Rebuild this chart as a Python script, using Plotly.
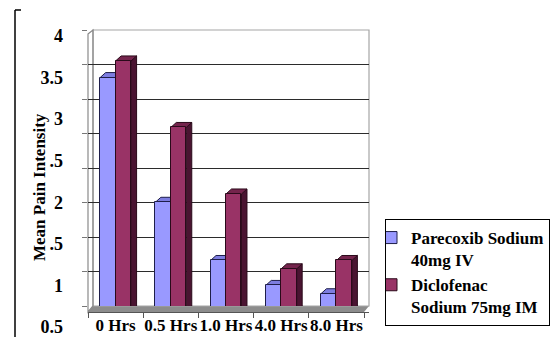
import plotly.graph_objects as go

# ---- data -------------------------------------------------------------
time_points = ["0 Hrs", "0.5 Hrs", "1.0 Hrs", "4.0 Hrs", "8.0 Hrs"]
parecoxib = [3.5, 2.0, 1.3, 1.0, 0.9]
diclofenac = [3.7, 2.9, 2.1, 1.2, 1.3]
series_names = ["Parecoxib Sodium<br>40mg IV", "Diclofenac<br>Sodium 75mg IM"]
y_tick_vals = [0.5, 1, 1.5, 2, 2.5, 3, 3.5, 4]
y_tick_text = ["0.5", "1", "1.5", "2", "2.5", "3", "3.5", "4"]

# ---- geometry / style ---------------------------------------------------
W, H = 558, 337
L, R, T, B = 88, 369, 30, 334          # plotting rectangle in pixels
FLOOR_PX = 306                          # back edge of the chart floor
UNIT_PX = 83.14                         # pixels per pain-intensity unit
Y_TOP = 4 + 6 / UNIT_PX                 # value at the top of the wall
Y_FLOOR = 0.5 + 21 / UNIT_PX            # value at the floor
Y_LABEL_BOTTOM = 0.5 - 7 / UNIT_PX      # value at the bottom of the label strip

BAR_W = 0.28                            # bar width in category units
DEPTH_X = 0.10                          # 3-D depth, category units
DEPTH_Y = 5 / UNIT_PX                   # 3-D depth, value units

SERIF = "Liberation Serif"
P_FRONT, P_SIDE, P_TOP, P_EDGE = "#9999ff", "#5c5cb8", "#7d7de0", "#1e1e4a"
D_FRONT, D_SIDE, D_TOP, D_EDGE = "#993366", "#4a1431", "#74244c", "#2a0a1a"


def px(xp):
    return (xp - L) / (R - L)


def py(yp):
    return (B - yp) / (B - T)


fig = go.Figure()

fig.add_trace(go.Bar(
    x=time_points, y=parecoxib, name=series_names[0],
    width=BAR_W, offset=-BAR_W,
    marker=dict(color=P_FRONT, line=dict(color=P_EDGE, width=1)),
))
fig.add_trace(go.Bar(
    x=time_points, y=diclofenac, name=series_names[1],
    width=BAR_W, offset=0,
    marker=dict(color=D_FRONT, line=dict(color=D_EDGE, width=1)),
))

# empty carriers so the wall-grid axis and the label axis get drawn
for axis_id in ("y2", "y3"):
    fig.add_trace(go.Scatter(
        x=[time_points[0]], y=[2], yaxis=axis_id, mode="markers",
        marker=dict(size=1, opacity=0), showlegend=False, hoverinfo="skip",
    ))

shapes = []

# floor band and walls of the 3-D frame
shapes.append(dict(
    type="path", xref="paper", yref="paper", layer="below",
    path=(f"M{px(88)},{py(312)} L{px(364)},{py(312)} "
          f"L{px(369)},{py(306)} L{px(93)},{py(306)} Z"),
    fillcolor="#8c8c8c", line=dict(width=0),
))
shapes.append(dict(
    type="path", xref="paper", yref="paper", layer="below",
    path=(f"M{px(93)},{py(30)} L{px(369)},{py(30)} "
          f"L{px(369)},{py(306)} L{px(93)},{py(306)} Z"),
    fillcolor="rgba(0,0,0,0)", line=dict(color="#a6a6a6", width=1.2),
))
shapes.append(dict(
    type="path", xref="paper", yref="paper", layer="below",
    path=(f"M{px(88)},{py(34)} L{px(93)},{py(30)} "
          f"L{px(93)},{py(306)} L{px(88)},{py(312)} Z"),
    fillcolor="rgba(0,0,0,0)", line=dict(color="#8a8a8a", width=1.2),
))

# side faces and top caps of each bar
for values, off, side, top, edge in (
    (parecoxib, -BAR_W, P_SIDE, P_TOP, P_EDGE),
    (diclofenac, 0.0, D_SIDE, D_TOP, D_EDGE),
):
    for i, v in enumerate(values):
        x0 = i + off
        x1 = x0 + BAR_W
        shapes.append(dict(
            type="path", xref="x", yref="y", layer="between",
            path=(f"M{x1},{v} L{x1 + DEPTH_X},{v + DEPTH_Y} "
                  f"L{x1 + DEPTH_X},{Y_FLOOR} L{x1},{Y_FLOOR - DEPTH_Y} Z"),
            fillcolor=side, line=dict(color=edge, width=1),
        ))
        shapes.append(dict(
            type="path", xref="x", yref="y", layer="between",
            path=(f"M{x0},{v} L{x1},{v} L{x1 + DEPTH_X},{v + DEPTH_Y} "
                  f"L{x0 + DEPTH_X},{v + DEPTH_Y} Z"),
            fillcolor=top, line=dict(color=edge, width=1),
        ))

# outer frame line on the left
shapes.append(dict(type="line", xref="paper", yref="paper",
                   x0=px(15), x1=px(15), y0=py(10), y1=py(340),
                   line=dict(color="black", width=1.5)))
shapes.append(dict(type="line", xref="paper", yref="paper",
                   x0=px(15), x1=px(21), y0=py(10), y1=py(10),
                   line=dict(color="black", width=1.5)))

fig.update_layout(
    width=W, height=H, autosize=False,
    margin=dict(l=L, r=W - R, t=T, b=H - B, pad=0, autoexpand=False),
    paper_bgcolor="white", plot_bgcolor="rgba(0,0,0,0)",
    barmode="overlay", bargap=0,
    showlegend=True,
    shapes=shapes,
    font=dict(family=SERIF, color="black"),
    xaxis=dict(
        type="category", categoryorder="array", categoryarray=time_points,
        range=[-0.5, (R - L) / 55.2 - 0.5],
        anchor="free", position=py(312), automargin=False, tickangle=0,
        showline=True, linecolor="#555555", linewidth=1,
        tickson="boundaries", ticks="outside", ticklen=5, tickcolor="#555555",
        ticklabelstandoff=-2, ticklabeloverflow="allow",
        showgrid=False, zeroline=False,
        tickfont=dict(family=SERIF, size=17, weight="bold", color="black"),
    ),
    yaxis=dict(
        domain=[py(FLOOR_PX), 1], range=[Y_FLOOR, Y_TOP],
        showticklabels=False, showgrid=False, zeroline=False,
        showline=False, ticks="", automargin=False,
    ),
    # gridlines on the back wall
    yaxis2=dict(
        overlaying="y", side="left", range=[0, 4], dtick=0.5, tick0=0,
        showgrid=True, gridcolor="#2b2b2b", gridwidth=1.4,
        zeroline=False, showline=False, showticklabels=False,
        ticks="outside", ticklen=5, tickcolor="#777777", automargin=False,
    ),
    # value labels along the left edge
    yaxis3=dict(
        domain=[0, 1], range=[Y_LABEL_BOTTOM, Y_TOP],
        anchor="free", position=0, side="left",
        tickmode="array", tickvals=y_tick_vals, ticktext=y_tick_text,
        showgrid=False, zeroline=False, showline=False, ticks="",
        ticklabelstandoff=25, ticklabeloverflow="allow", automargin=False,
        tickfont=dict(family=SERIF, size=18, weight="bold", color="black"),
    ),
    legend=dict(
        x=px(385), y=py(219), xanchor="left", yanchor="top",
        bgcolor="white", bordercolor="black", borderwidth=1,
        font=dict(family=SERIF, size=17, weight="bold", color="black"),
        valign="top", indentation=-15, itemwidth=30, tracegroupgap=6,
    ),
    annotations=[dict(
        text="Mean Pain Intensity", textangle=-90,
        xref="paper", yref="paper", x=px(39), y=py(187),
        xanchor="center", yanchor="middle",
        showarrow=False, bgcolor="white", borderpad=0,
        font=dict(family=SERIF, size=17, weight="bold", color="black"),
    )],
)

fig.write_html("out.html")
